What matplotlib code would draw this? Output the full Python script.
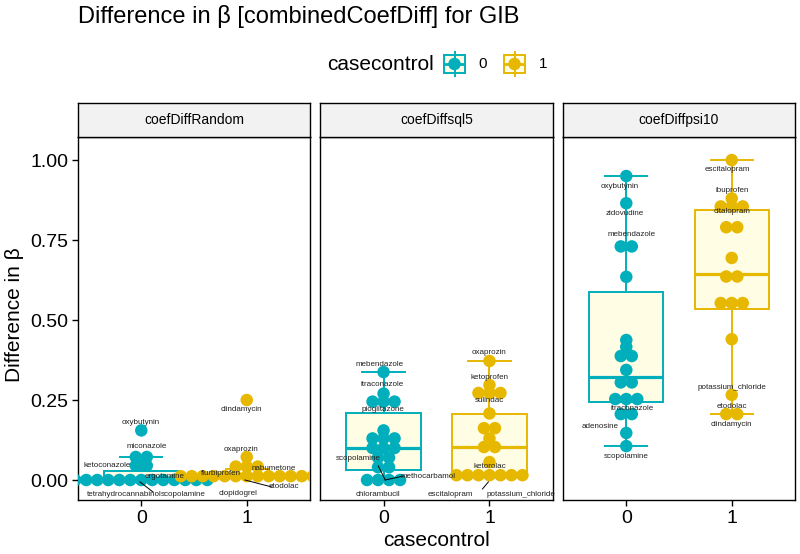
import matplotlib
matplotlib.use("Agg")
import matplotlib.pyplot as plt
from matplotlib.patches import Rectangle
import numpy as np

plt.rcParams['font.family'] = ['Liberation Sans', 'DejaVu Sans']

title = "Difference in β [combinedCoefDiff] for GIB"
panels = ["coefDiffRandom", "coefDiffsql5", "coefDiffpsi10"]
groups = ["0", "1"]
group_colors = ["#00AFBB", "#E7B800"]
box_fill = "#FFFDE3"
y_ticks = [0.0, 0.25, 0.5, 0.75, 1.0]
y_tick_labels = ["0.00", "0.25", "0.50", "0.75", "1.00"]

# ---- dot values (one entry per drug) ----
random_0 = [0.0] * 13 + [0.045] * 2 + [0.072] * 2 + [0.155]
random_1 = [0.012] * 13 + [0.042] * 3 + [0.072] + [0.25]
sql5_0 = [0.0] * 4 + [0.04] * 2 + [0.07] * 2 + [0.1] * 3 + [0.13] * 3 + [0.155] + [0.245] * 3 + [0.27] + [0.3375]
sql5_1 = [0.015] * 7 + [0.056] + [0.103] * 2 + [0.13] + [0.162] * 2 + [0.208] + [0.272] * 3 + [0.297] + [0.372]
psi10_0 = [0.106, 0.147, 0.206, 0.206, 0.253, 0.253, 0.253, 0.305, 0.305, 0.344,
           0.3875, 0.3875, 0.416, 0.4375, 0.635, 0.73, 0.73, 0.865, 0.95]
psi10_1 = [0.206, 0.206, 0.266, 0.44, 0.553, 0.553, 0.553, 0.636, 0.636, 0.694,
           0.79, 0.79, 0.855, 0.855, 0.855, 0.88, 1.0]
dots = [[random_0, random_1], [sql5_0, sql5_1], [psi10_0, psi10_1]]

# ---- box statistics: whisker low, q1, median, q3, whisker high ----
random_box_0 = [0.0, 0.0, 0.0, 0.028, 0.072]
random_box_1 = [0.012, 0.012, 0.012, 0.02, 0.034]
sql5_box_0 = [0.0, 0.031, 0.1, 0.209, 0.3375]
sql5_box_1 = [0.013, 0.013, 0.103, 0.206, 0.372]
psi10_box_0 = [0.106, 0.244, 0.322, 0.587, 0.95]
psi10_box_1 = [0.205, 0.534, 0.644, 0.844, 1.0]
boxes = [[random_box_0, random_box_1], [sql5_box_0, sql5_box_1], [psi10_box_0, psi10_box_1]]

# ---- drug labels (text, x, y) in each panel ----
random_labels = [("oxybutynin", -0.01, 0.181), ("miconazole", 0.054, 0.106),
                 ("ketoconazole", -0.325, 0.044), ("ergotamine", 0.225, 0.0125),
                 ("tetrahydrocannabinol", -0.164, -0.044), ("scopolamine", 0.395, -0.044),
                 ("clindamycin", 0.945, 0.219), ("oxaprozin", 0.945, 0.094),
                 ("nabumetone", 1.258, 0.0375), ("flurbiprofen", 0.755, 0.019),
                 ("etodolac", 1.353, -0.019), ("clopidogrel", 0.917, -0.041)]
sql5_labels = [("mebendazole", -0.041, 0.3625), ("itraconazole", -0.012, 0.297),
               ("pioglitazone", -0.003, 0.219), ("scopolamine", -0.24, 0.066),
               ("methocarbamol", 0.424, 0.0125), ("chlorambucil", -0.05, -0.044),
               ("oxaprozin", 1.0, 0.397), ("ketoprofen", 1.0, 0.319),
               ("sulindac", 1.0, 0.25), ("ketorolac", 1.0, 0.041),
               ("escitalopram", 0.632, -0.044), ("potassium_chloride", 1.296, -0.044)]
psi10_labels = [("oxybutynin", -0.06, 0.916), ("zidovudine", -0.012, 0.834),
                ("mebendazole", 0.054, 0.766), ("itraconazole", 0.054, 0.225),
                ("adenosine", -0.25, 0.166), ("scopolamine", 0.0, 0.075),
                ("escitalopram", 0.957, 0.969), ("ibuprofen", 1.0, 0.906),
                ("citalopram", 1.0, 0.84), ("potassium_chloride", 1.0, 0.29),
                ("etodolac", 1.0, 0.231), ("clindamycin", 1.0, 0.172)]
labels = [random_labels, sql5_labels, psi10_labels]

# label connector segments (x0, y0, x1, y1)
random_segments = [(-0.012, -0.006, 0.111, -0.0375), (0.983, 0.0, 1.24, -0.022)]
sql5_segments = [(-0.05, 0.044, 0.016, 0.0), (0.016, 0.0, 0.187, 0.0125),
                 (0.99, -0.006, 0.934, -0.028)]
psi10_segments = []
segments = [random_segments, sql5_segments, psi10_segments]

# ---- layout (pixels) ----
W, H = 800, 554
fig = plt.figure(figsize=(W / 100, H / 100), dpi=100)


def px_axes(l, t, r, b):
    return fig.add_axes([l / W, 1 - b / H, (r - l) / W, (b - t) / H])


panel_px = [(78, 310), (320, 553), (563, 795)]
p_top, p_bot, s_top = 137, 500, 103
xlim = (-0.6, 1.6)
ylim = (-0.0625, 1.072)
dot_px = 12.5
gap_px = 11.0
dot_s = (dot_px * 0.72) ** 2

for pi, (l, r) in enumerate(panel_px):
    ax = px_axes(l, p_top, r, p_bot)
    ax.set_xlim(*xlim)
    ax.set_ylim(*ylim)
    ppu = (r - l) / (xlim[1] - xlim[0])
    step = gap_px / ppu
    # boxes + errorbars
    for gi in range(2):
        lo, q1, med, q3, hi = boxes[pi][gi]
        c = group_colors[gi]
        ax.plot([gi, gi], [lo, hi], color=c, lw=1.4, zorder=1, solid_capstyle='butt')
        for v in (lo, hi):
            ax.plot([gi - 0.2, gi + 0.2], [v, v], color=c, lw=1.4, zorder=1)
        ax.add_patch(Rectangle((gi - 0.35, q1), 0.7, q3 - q1, facecolor=box_fill,
                               edgecolor=c, lw=1.4, zorder=2))
        ax.plot([gi - 0.35, gi + 0.35], [med, med], color=c, lw=2.3, zorder=2.5,
                solid_capstyle='butt')
    # dots
    for gi in range(2):
        vals = np.array(dots[pi][gi])
        uniq, counts = np.unique(vals, return_counts=True)
        xs, ys = [], []
        for v, n in zip(uniq, counts):
            for k in range(n):
                xs.append(gi + (k - (n - 1) / 2) * step)
                ys.append(v)
        ax.scatter(xs, ys, s=dot_s, color=group_colors[gi],
                   edgecolors='none', zorder=3, clip_on=True)
    for (x0, y0, x1, y1) in segments[pi]:
        ax.plot([x0, x1], [y0, y1], color='black', lw=0.7, zorder=4)
    for (t, x, y) in labels[pi]:
        ax.text(x, y, t, fontsize=5.8, ha='center', va='center', color='#222222', zorder=5)
    for s in ax.spines.values():
        s.set_color('black')
        s.set_linewidth(1.0)
    ax.set_xticks([0, 1])
    ax.set_xticklabels(groups, fontsize=14, color='black')
    ax.set_yticks(y_ticks)
    if pi == 0:
        ax.set_yticklabels(y_tick_labels, fontsize=14, color='black')
    else:
        ax.tick_params(axis='y', left=False, labelleft=False)
    ax.tick_params(length=4, width=1, color='black', pad=3)
    ax.set_facecolor('white')
    # strip
    sax = px_axes(l, s_top, r, p_top)
    sax.set_facecolor('#F2F2F2')
    sax.set_xticks([])
    sax.set_yticks([])
    for s in sax.spines.values():
        s.set_color('black')
        s.set_linewidth(1.0)
    sax.text(0.5, 0.5, panels[pi], fontsize=10, ha='center', va='center',
             transform=sax.transAxes)

# titles
fig.text(78 / W, 1 - 16 / H, title, fontsize=17, ha='left', va='center')
fig.text(15 / W, 1 - 315 / H, "Difference in β", fontsize=15, rotation=90,
         ha='center', va='center')
fig.text(436.5 / W, 1 - 541 / H, "casecontrol", fontsize=15, ha='center', va='center')

# legend
fig.text(327 / W, 1 - 64 / H, "casecontrol", fontsize=15, ha='left', va='center')
key_x = [443, 503]
lab_x = [483, 543]
for gi in range(2):
    kax = px_axes(key_x[gi], 51, key_x[gi] + 23, 77)
    kax.set_xlim(0, 1)
    kax.set_ylim(0, 1)
    kax.axis('off')
    c = group_colors[gi]
    kax.plot([0.5, 0.5], [0, 1], color=c, lw=1.4)
    kax.add_patch(Rectangle((0.05, 0.17), 0.9, 0.66, facecolor=box_fill, edgecolor=c, lw=1.4))
    kax.plot([0.05, 0.95], [0.5, 0.5], color=c, lw=2.0)
    kax.scatter([0.5], [0.5], s=dot_s, color=c, edgecolors='none', zorder=3)
    fig.text(lab_x[gi] / W, 1 - 64 / H, groups[gi], fontsize=11, ha='center', va='center')

fig.savefig("out.png", dpi=100)
